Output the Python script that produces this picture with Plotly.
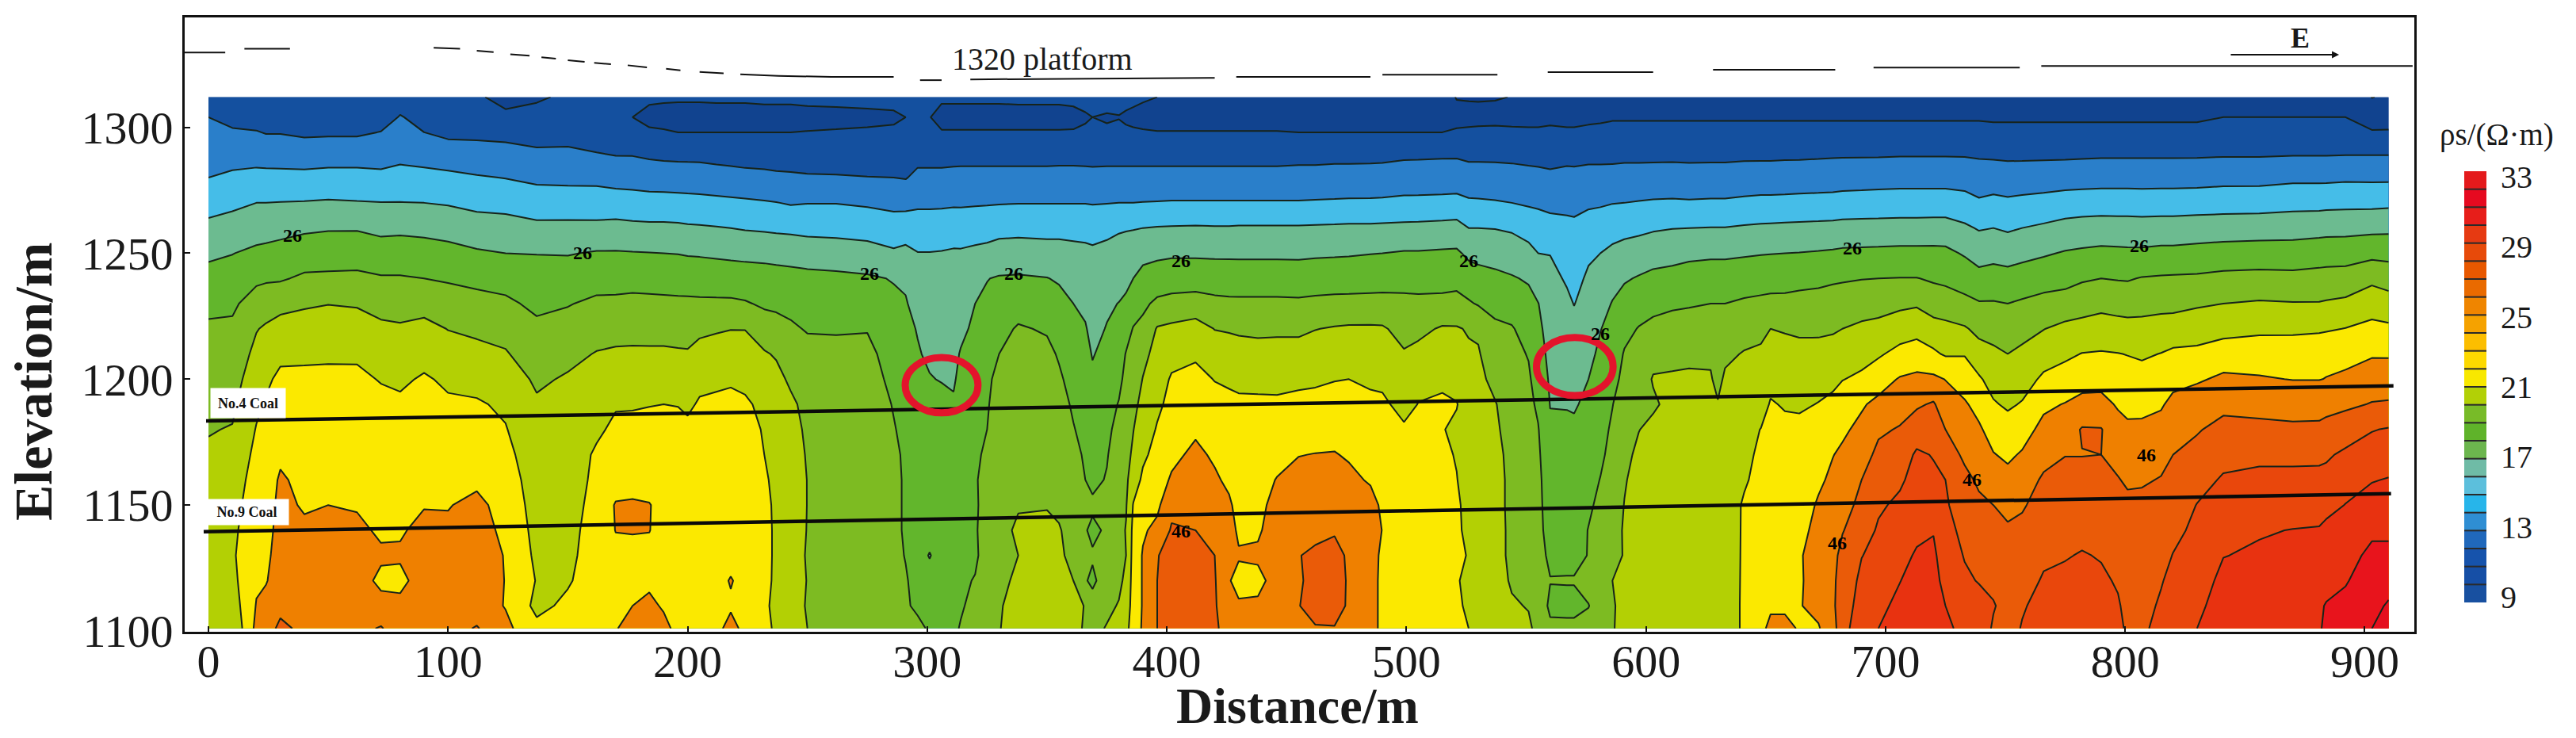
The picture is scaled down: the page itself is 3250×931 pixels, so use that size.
import numpy as np
import plotly.graph_objects as go

elev_m = [1312, 1304, 1298, 1290, 1280, 1270, 1260, 1250, 1240, 1230, 1220, 1210, 1200,
          1190, 1180, 1170, 1160, 1150, 1140, 1130, 1120, 1110, 1101]

columns = [
 (0,  [13,14,15,16.4,18,20.5,23,25.3,27.3,29.2,30.5,31.3,32,33,33.8,34.5,35,35.5,36,36,36,35,35]),
 (10, [12,13,14.4,16.3,18.7,21.2,23.6,25.9,27.7,29.4,30.6,31.5,32.4,33.3,34.2,35,36,36.7,37.2,37.5,37,36,34.5]),
 (20, [11.5,12.5,14.2,16.5,19,22,24.3,26.8,29.3,31.6,33.8,35,36.2,37.3,38.2,39,39.6,40,40.5,41,41.5,42.2,43]),
 (24, [11.5,12.5,13.8,16.3,19,22,24.5,27,29.5,32.2,34.5,36,37.4,38.3,39,39.6,40,40.3,40.8,41.3,41.8,43,44]),
 (30, [11.5,12.5,13.8,16.2,19,22.1,24.7,27.5,29.6,32.8,35.5,37.3,38.7,39.6,40.5,41.3,42.5,43,43.2,43.4,43.6,44.8,47]),
 (40, [11,12,13.4,15.7,19.1,22.2,25.4,28,30.6,33.6,35.4,37.5,38.6,39.3,39.9,40.5,41,41.6,42.7,43.5,44,44.5,45]),
 (50, [11,12,13.5,15.9,19.4,22.4,25.7,28.2,30.7,33.9,36,37.6,38.6,39.2,39.9,40.6,41.3,42,43,43.5,44,44.5,45]),
 (62, [11,12,13.5,15.9,19.4,22.2,25.7,28.3,30.8,33.7,35.5,37.5,38.7,39.5,40,40.5,41,41.6,43,43.8,44,44.3,45]),
 (72, [11.5,12.5,14.1,16.4,18.8,22.1,25,27.9,30.3,32.6,34.8,36.5,37.8,38.9,39.5,40,40.4,40.8,41.3,42.7,41,43.5,46.3]),
 (80, [12.5,14.2,15.1,16.9,19.2,22.1,25.2,27.9,30.3,32.4,34.5,35.9,37.4,38.6,39,39.8,40.6,41,41.6,42.5,41,43,44]),
 (90, [12,13,14,16.4,19.1,22,25,27.6,30,32.6,35.1,36.8,38.4,39.2,39.9,40.6,41.2,41.8,43,43.5,43.8,44,44.5]),
 (100,[11.5,12,13,15.9,18.8,21.7,24.6,27.2,29.6,31.8,33.9,35.6,37.4,38.5,39.3,40.2,41,41.8,42.7,43.2,43.5,44,44.5]),
 (112,[10.5,11.8,13,15.5,18.3,21.1,23.6,26.5,29,31.3,33.3,35,36.8,38.4,39.3,40.2,41.2,43,43.5,44,44,44,46.3]),
 (124,[8.8,10.8,12.8,15.2,17.9,20.8,23.5,26,28.6,30.7,32.8,34.3,36,37.4,38.2,39,39.8,40.5,41.2,41.8,41.9,41.8,43]),
 (137,[9.6,11,12.2,14.6,17.3,19.8,23,25.9,27.6,29.2,30.8,32.1,33.4,34.5,35.2,35.8,36.2,36.5,36.8,37.2,37.8,37,39]),
 (150,[10.5,11.5,12.3,14.7,17.1,19.9,23,25.8,27.8,29.8,31.3,33,34.4,35,35.6,36,36.2,36.5,36.8,37,37.6,38.8,40]),
 (162,[11,11,12.6,14,17,20,22.9,26.3,28.6,30.7,32.5,34.2,35.5,36.5,37.4,38.5,38.8,39.2,39.6,40,40,40.5,41]),
 (170,[10.8,10.8,11.6,13.6,16.6,19.8,23.2,26.3,28.7,30.7,32.8,34.5,36,37.7,38.7,39.5,40.3,42.3,42.1,41,40.8,41,41.7]),
 (177,[10.8,10,11,13.6,16.4,19.7,22.9,26.2,28.9,30.8,32.8,34.6,36.2,37.7,38.9,39.6,40.4,42.5,42.2,41,41,42,44]),
 (184,[10.5,9.2,10.4,13.2,16.1,19.5,22.8,26.1,28.7,30.8,32.7,34.6,36.4,37.9,38.9,39.6,40.2,42.2,42.1,41,41.3,42.8,44.5]),
 (190,[10.5,8.8,10.3,13,16,19.5,22.8,26,28.5,30.8,32.7,34.6,36.5,38,38.9,39.6,40,40.5,40.6,41,41.3,41.6,43]),
 (196,[10.5,8.6,10,12.9,15.9,19.4,22.7,25.9,28.4,30.7,32.7,34.4,36.3,37.9,38.9,39.6,40,40.3,40.5,40.6,40.8,40.8,41]),
 (200,[10.5,8.6,10,12.9,15.8,19.3,22.5,25.7,28.3,30.7,32.8,34.3,36,37.5,38.6,39.5,40,40.3,40.5,40.6,40.8,40.8,41]),
 (205,[10.5,8.6,10,12.9,15.7,19.2,22.4,25.6,28.3,30.6,33.2,35.3,37.3,38.3,39,39.6,40,40.3,40.5,40.6,40.8,40.8,40.8]),
 (212,[10.6,8.6,10,12.7,15.4,19,22.2,25.4,28.1,30.6,33.6,35.7,37.5,38.5,39.2,39.8,40.2,40.5,40.6,40.8,41,41,41.2]),
 (218,[10.6,8.6,10,12.6,15.2,18.8,22,25.2,28,30.6,33.9,35.9,37.7,38.6,39.2,39.8,40.2,40.5,40.6,41,42.2,41.6,43]),
 (224,[10.6,8.6,10,12.4,15,18.6,21.7,25,27.9,30.3,33.9,35.6,37.2,38.5,39.3,39.8,40.2,40.4,40.5,40.6,41,41,41.2]),
 (232,[10.7,8.8,10,12.2,14.9,18.3,21.5,24.8,27.8,29.5,31.7,34.4,36,37.2,37.7,38,38.4,38.7,38.9,38.9,38.9,38.5,39]),
 (237,[10.7,8.8,10,12,14.7,18.1,21.3,24.7,27.5,29.3,31.3,33.6,35.2,36,36.6,37,37.3,37.5,37.5,37.5,37.4,37.3,37.4]),
 (243,[10.7,8.8,10,11.9,14.6,17.7,21.1,24.6,27.2,28.9,30.6,32,33.3,34.8,35.7,36.3,36.6,36.8,36.8,36.8,36.8,36.7,36.3]),
 (250,[10.8,9,10.1,11.8,14.4,17.9,20.8,24.3,27,28.5,29.7,31.3,32.1,32.8,33.2,33.6,33.9,33.9,33.8,33.5,33.8,33.5,34]),
 (262,[10.8,9.2,10.2,11.8,14.3,17.9,20.7,24,26.8,28.3,29.8,30.6,31,31.5,31.8,32,32,32,32,32,32,32,32]),
 (275,[10.8,9.4,10.3,11.7,14.1,17.5,20.4,23.5,26.5,28,29.8,31,31.7,32,31.8,31.6,31.4,31.2,31.2,31.2,31.2,31.2,31.5]),
 (286,[10.8,9.6,10.4,11.7,14,17.2,19.5,22.6,25.8,26.7,27.5,28.3,29,29.8,30.2,30.5,30.6,30.6,30.6,30.6,30.8,31,31.4]),
 (291,[10.9,10,10.6,11.6,13.8,17,20,23,25.4,26.3,26.9,27.5,28.1,28.7,29.2,29.6,29.7,29.7,29.7,29.9,30.2,30.2,30.8]),
 (296,[10.9,10.2,10.7,12.6,14.9,17.3,20,22.1,23.5,24.6,25.8,26.3,26.9,27.5,28,28.3,28.6,28.7,28.8,28.8,29.2,29.7,30.4]),
 (301,[11.2,10.1,10.8,12.6,14.9,17.3,20,22.1,23,23.8,24.6,25.4,26.2,27,27.9,28.4,28.7,28.8,28.8,25.6,28.7,29.3,29.8]),
 (306,[10.5,9,10.2,12.6,14.9,17.4,20,22.2,23,23.7,24.3,25,25.8,27.2,28,28.5,28.7,28.8,28.8,29,29,29.2,29.6]),
 (311,[10.5,9,10.2,12.7,15,17.5,20.3,22.4,23.3,24,24.5,25,25.4,26.6,28,28.5,28.7,28.8,28.8,29,29.1,29.2,29.5]),
 (314,[10.5,9,10.2,12.8,15,17.5,20.2,22.4,23.1,24.1,25.1,26.3,27.4,28,28.5,28.8,29,29.2,29.3,29.5,29.7,29.7,30.2]),
 (320,[10.5,9,10.2,12.8,15,17.6,20.5,22.7,24.2,26,26.8,27.5,28.3,28.8,29.2,29.7,29.8,29.7,29.8,29.7,30.1,30.8,31.5]),
 (325,[10.5,9,10.2,12.8,15,17.7,20.6,23,25.9,26.6,27.4,28.2,29.4,29.7,30,30.3,30.7,30.8,30.8,30.8,31.2,31.7,32.5]),
 (330,[10.5,9,10.2,12.8,15,17.8,20.8,23.6,26.3,27.5,28.8,30,30.9,31.4,31.8,32.2,32.6,32.8,33.2,33.2,33.6,33.8,33.9]),
 (338,[10.6,9,10.2,12.8,15,17.9,20.9,23.8,26.4,28.3,30.4,31.3,32,32.7,33,33.3,33.5,33.8,34.4,34,34.3,34.8,35]),
 (350,[10.6,9,10.2,12.8,15,17.9,20.8,23.5,26.1,28,29.6,31,31.8,32.5,33,33.3,33.5,33.9,34.4,35,35.3,35.5,35.5]),
 (355,[10.6,9,10.2,12.8,15.1,17.9,20.8,23.5,25.6,27.2,28.8,29.6,30.6,31.4,32,32.6,33,33.5,34.2,34.5,34.4,35,35]),
 (361,[10.7,9.2,10.2,12.8,15.1,17.9,20.7,23.2,24.9,26,26.9,27.8,28.6,29.5,30.2,31.3,32,32.8,33,33.2,34,34.6,35]),
 (366,[10.9,9.7,10.4,12.8,15,17.9,20.6,23,24.3,25.2,26.3,27,27.7,28.4,28.9,29.4,30,30.6,30.2,30.5,30.2,33.9,33.6]),
 (369,[11,10,10.6,12.8,14.9,17.8,20.5,22.7,23.5,24.2,24.9,25.8,26.6,27.4,28,28.8,29.3,30.5,29.4,30.3,29.5,31,32.8]),
 (375,[10.8,9.8,10.3,12.8,15,17.9,21,23.1,24.1,25.4,26.2,27,27.8,28.6,29.3,29.8,30.2,30.8,30.4,31,31.3,33,34.3]),
 (380,[10.9,9.9,10.6,12.8,15,18,21.6,23.4,24.4,26.1,27.5,28.3,29.1,30.2,31,31.6,32,32.4,32.7,32.8,33,34.3,35.5]),
 (383,[10.8,9.6,10.4,12.8,15,18,21.7,23.9,25.2,26.6,28.4,30.2,31,31.6,32.3,32.9,33.3,33.7,34.2,34,35,36,37]),
 (386,[10.6,9.4,10.3,12.8,15,18,21.8,24.2,26,28,30.2,31.3,32.2,33,33.9,34.6,36,38.2,39,39.4,39.5,39.5,39.7]),
 (390,[10.3,9.2,10.2,12.8,15,18.1,22,25,27.1,29.2,31,33.1,34.1,35.1,36,37.3,38.7,39.6,41.5,42.3,42.3,42.3,42.5]),
 (396,[10,8.9,10.1,12.8,15,18.2,22.2,25.3,27.7,30.8,34.3,35.1,36.2,37.3,38.3,39.2,40.1,41.2,43,45.8,46,46,46]),
 (402,[9.5,8.9,10.1,12.8,15,18.3,22.3,25.6,27.6,31.6,34.7,36.8,38.4,39,39.8,41,42.5,45,46.4,47.5,47.8,47.8,47]),
 (412,[9.3,8.9,10.1,12.8,15,18.3,22.4,25.5,28,31.8,35.5,37.6,38.8,39.9,41.4,42.9,43.8,45,46,47.5,47.8,47.8,47.3]),
 (420,[9.3,8.9,10.1,12.8,15,18.3,22.3,25.4,28,31,33.9,35.9,37.9,38.9,40,41.4,42.6,43.5,44.7,46,46.3,46.3,46.2]),
 (426,[9.5,8.9,10.1,12.8,15,18.3,22.3,25.4,27.9,30.8,33.7,35.5,37.5,38.8,39.7,40.2,41.2,42.6,43.2,43.5,42.2,44,45.5]),
 (430,[9.5,8.9,10.1,12.8,15,18.3,22.4,25.4,27.8,30.8,33.5,35.3,37.1,38.7,39.4,39.8,40.2,40.7,41.5,42.3,41,42.4,44]),
 (438,[9.5,9,10.1,12.8,15,18.3,22.4,25.4,27.8,30.8,33.3,35.2,37.1,38.6,39.4,39.9,40.3,40.9,41.5,42.6,41,42.6,44.5]),
 (446,[9.5,9,10.1,12.8,15,18.3,22.4,25.4,27.8,30.8,33.4,35.2,37,38.6,39.3,40.6,42.2,43.3,43.8,43.2,43.4,43.9,45]),
 (455,[9.5,9,10,12.9,15.1,18.3,22.4,25.4,27.7,30.7,33.3,35.4,37.3,38.9,40.4,41.9,43.1,44,44.8,45.9,45.6,45.9,45.8]),
 (462,[9.5,9,10,12.9,15.1,18.4,22.5,25.5,28,30.9,33.9,35.8,37.5,39,40.5,42.1,43,44,45.3,46.5,47,47,45.8]),
 (470,[9.5,9,10,13,15.2,18.5,22.6,25.6,28.1,31.1,34.3,36.2,37.9,39,40.7,42.2,43.3,44.4,45.6,47.3,47.5,47.5,45.8]),
 (476,[9.5,9,10,13,15.2,18.6,22.7,25.7,28.1,31.2,34.5,36.4,38,39.1,40.3,41.6,42.9,43.8,44.6,45.4,45.6,45.5,45.2]),
 (485,[9.7,9.1,10,13,15.3,18.6,22.7,25.9,28.2,31.3,34.5,36,37.5,38.7,39.3,40,41.6,43.4,43.7,43.5,43.3,43.3,43.3]),
 (490,[9.8,9.2,10,13,15.4,18.7,22.8,26,28.2,31.4,34.4,36,37.2,38.7,39.2,40,41,41.3,41.9,41.3,41.2,41.2,41.2]),
 (499,[9.8,9.2,10,13.3,15.6,19,22.9,26.3,28.3,31.2,32.8,34.3,35.5,36.8,38.5,39,39.3,39.8,39.8,39.5,39.4,39.4,39.4]),
 (505,[9.8,9.2,10,13.3,15.7,19,23,26.3,28.5,30.9,33.1,35,37,38.1,39,39.3,39.7,40,40,39.7,39.6,39.6,39.5]),
 (515,[9.5,9.2,10,13.4,15.8,19.1,23.2,26.5,28.6,31,34.4,36,37.4,38.5,38.2,38.6,39.2,39.3,39.3,39.3,39.2,39.2,39]),
 (521,[5.6,8.4,10.6,13.4,15.9,19.2,23.4,26.6,28.6,31.4,34.3,35.3,36.5,38.2,37.2,37.8,38.1,38.5,38.5,38.7,38.2,38.4,38.3]),
 (526,[5.4,8.3,10.9,13.1,15.5,18.6,22,25.2,27.9,30.4,33.7,34.5,35.2,35.6,35.8,36,36.6,37,37.3,37.8,37.4,37.6,38]),
 (530,[5.2,8.5,11,13.1,15.5,18.5,22,25,27.2,29.7,33.5,34.3,34.8,35,35.2,35.4,35.6,36,36.2,36.5,36.8,37.5,38]),
 (537,[5.4,8.7,11,13.1,15.4,18.3,21.9,24.3,27,28.9,30.7,31.9,33.1,34.2,34.5,34.8,35,35,35.2,35.2,35.5,35.8,36.2]),
 (544,[6.2,9,10.6,13,15.3,18,21.5,24.1,26.3,28.3,30.3,31,31.6,32.3,32.8,33.2,33.3,33.3,33.3,33.3,33.6,34.4,35]),
 (551,[8,9,10.5,12.9,15,17.5,20.7,23,25.6,27.2,28.5,29.8,30.5,30.9,31.2,31.4,31.6,31.7,31.8,31.9,32.4,33.8,34.6]),
 (555,[8,9,10.5,12.8,14.9,17.2,20.4,22,23.9,26.1,26.9,27.6,28.4,29.4,30.2,30.6,30.8,30.8,30.8,30.9,31.2,32,33]),
 (560,[8.4,9.4,10.5,12.6,14.7,16.8,19.7,21.9,23,23.8,24.4,25,25.5,25.9,26.5,27.2,28,28.5,28.9,29.5,30.1,29.4,30.6]),
 (567,[8.8,9.6,10.2,12.7,15.1,17.2,18.8,20.2,21.6,22.7,23.6,24.5,25.4,25.8,26.7,27.3,27.8,28.2,28.6,29.2,30.2,29.1,30.8]),
 (570,[8.8,9.6,10.2,12.7,15,17.1,18.7,19.9,21,21.9,23,24,25,25.6,26.7,27.3,27.8,28.2,28.6,29.2,30.2,29.1,30.8]),
 (576,[9,9.7,10.3,12.9,15.2,17.5,19.4,21.5,22.5,23.4,24.3,25.1,26,26.9,27.6,28.2,28.9,29.5,30.1,30.1,31,29.9,31]),
 (581,[9,9.8,10.3,12.9,15.2,17.6,19.9,22,23.2,24.6,25.9,26.7,27.5,28.2,28.9,29.4,30.1,30.7,31,31.2,31.4,31.4,31.6]),
 (586,[9,9.9,10.3,12.9,15.3,17.9,20.4,22.9,24.7,26.2,27.1,27.8,28.8,29.9,30.5,31,31.4,32,32.8,33.5,34,33.5,33.6]),
 (591,[9,9.9,10.3,13,15.4,18,20.8,23.5,25.6,27.5,28.9,30.3,31,31.7,32.3,33,33.7,34.1,34.3,34.1,34.8,35.5,35.8]),
 (597,[9,9.9,10.3,13,15.4,18.2,21.2,23.8,26.3,28.2,30.2,31,31.8,32.7,33.9,34.8,35.3,35.5,35.8,36,36.5,36.7,36.8]),
 (603,[9,9.9,10.3,13,15.5,18.4,21.6,24.3,27,28.9,31,32.7,34.3,33.4,35,35.5,35.7,35.9,36,36.2,36.5,36.6,36.8]),
 (611,[9.2,9.9,10.3,13,15.6,18.5,21.9,24.7,27.3,29.5,31.3,32.9,34.5,35.2,35.7,36,36.2,36.4,36.6,36.7,36.9,37,37]),
 (618,[9.3,9.9,10.3,13,15.4,18.4,22,25.2,27.6,29.7,31.5,33.2,34.6,35.2,35.7,36,36.2,36.4,36.5,36.6,36.7,36.8,36.9]),
 (627,[9.3,9.9,10.3,13,15.5,18.5,22.1,25.4,27.8,30,31.8,33.3,34.4,35,35.8,36.1,36.3,36.5,36.6,36.7,36.8,36.9,37]),
 (630,[9.3,9.9,10.3,13,15.5,18.5,22.1,25.4,27.8,30,31.4,32.1,32.7,34.3,35.6,36,36.2,36.4,36.5,36.6,36.7,36.8,36.9]),
 (633,[9.3,9.9,10.3,13,15.5,18.5,22.1,25.4,27.8,30,31.8,33.1,34.7,35.7,36,36.3,36.5,36.6,36.7,36.8,36.9,37,37]),
 (641,[9.4,9.9,10.3,13.1,15.7,18.8,22.4,25.6,28.2,30.5,32.2,34.3,35.2,35.9,36.6,37.2,37.7,38.3,38.3,38.3,38.3,38.3,38.3]),
 (648,[9.4,9.9,10.3,13.1,15.8,19,22.6,25.8,28.4,30.8,33.1,34.6,35.7,36.5,38.1,38.6,38.8,39,39,39,39,39.5,41]),
 (652,[9.4,9.9,10.3,13.1,15.8,19,22.7,25.9,28.5,31,34,35.6,37,38.3,38.7,39,39.2,39.4,39.4,39.4,39.5,41.4,43]),
 (658,[9.4,9.9,10.3,13.2,15.8,19.1,22.8,26,28.6,31,33.7,35.3,37,37.7,38.8,39.2,39.5,39.7,39.8,39.9,40,41.4,43]),
 (664,[9.4,9.9,10.3,13.2,15.9,19.2,22.9,26.1,28.8,31.3,33.4,35.1,36.8,37.6,38.7,39.4,39.8,40.3,41,41.7,41.6,41.8,41.7]),
 (672,[9.4,9.9,10.3,13.3,16,19.3,23,26.3,29,31.6,33.3,35.3,37,38.1,39.2,40,41.4,42.4,43,43.3,43.4,43,41.7]),
 (678,[9.5,9.9,10.3,13.4,16.1,19.4,23.1,26.5,29.4,31.9,33.6,35.4,37.4,38.6,40.4,41.9,42.7,43.4,44,45,45.3,45.3,44.3]),
 (682,[9.5,9.9,10.3,13.4,16.3,19.5,23.3,26.7,29.6,32,34,35.5,37.9,39.6,41.4,42.6,43.7,44.7,45.8,47,47.6,48.2,48.8]),
 (690,[9.5,9.9,10.3,13.4,16.4,19.6,23.4,26.8,29.9,32.1,34.8,36.9,38.6,41.6,42.9,44.4,46,46.9,48,49.9,50.8,51.4,52]),
 (697,[9.6,9.9,10.3,13.4,16.5,19.7,23.4,26.9,30,32.3,35.3,37.5,40.4,42.9,45.4,46.9,48,49.4,50.5,51,51.9,53,54]),
 (706,[9.6,9.9,10.3,13.5,16.6,19.8,23.5,27,30.1,33.2,36.1,39.2,42.3,44.5,46.3,47.8,49.4,50.8,51.9,52.9,53.9,55,56]),
 (713,[9.6,9.9,10.3,13.5,16.6,19.8,23.5,27,30.1,33.5,36.8,39.7,42.9,45.5,48,50.6,51.4,52.2,53.2,54.4,55.5,56.5,57]),
 (720,[9.6,9.9,10.3,13.5,16.6,19.8,23.6,27,29.6,31.8,35.8,38.6,42.8,46.4,48,49.8,50.7,51.5,53.8,54.7,55.3,56,56.8]),
 (725,[9.6,9.9,10.3,13.5,16.6,19.8,23.6,26.9,29.3,31.6,35.2,37.6,41.9,43.9,46,48,50,50.4,51,52,52.8,54,55.5]),
 (733,[9.6,9.9,10.3,13.5,16.3,19.5,22.6,25.6,28.5,30.9,34.4,37.8,40,42.5,43.9,45.3,47,48.3,49.2,49.8,50.6,51.4,52]),
 (739,[9.6,9.9,10.3,13.3,16,18.5,21.7,24.5,27.2,30.3,33,35.5,38.5,40.6,42.6,44,45.4,46.7,47.6,48.8,49.8,51.3,52.5]),
 (745,[9.6,9.9,10.2,13.2,16,19,22,24.8,27.6,30.3,32.5,34.8,36.5,38.4,40.3,42.2,44.2,46,47,47.9,49,50.3,49.5]),
 (751,[9.6,9.9,10.2,13.1,15.7,18.7,21.5,24.5,27.3,30,32,34,35.7,37.4,39.7,41.3,43.2,45,46.5,47.4,48,48.6,48.8]),
 (757,[9.6,9.9,10.2,13.1,15.8,19,22,25,27.7,30.5,32.7,34.8,36.3,38.3,40.3,42.4,44.3,45.6,46.9,47.9,48.8,49.7,50.2]),
 (766,[9.7,9.9,10.2,13.1,16,19.3,22.6,25.6,28.4,31.2,33.9,36.3,38.7,41.2,43.2,44.9,46.5,47.5,48.5,49.5,50.3,51,51.5]),
 (775,[9.7,9.9,10.2,13.1,16.2,19.8,23.3,26.3,28.8,31.6,35,37.4,39.4,42.2,44,45.9,47.3,48.1,49,49.8,50.7,51.4,52]),
 (782,[9.7,9.9,10.2,13.2,16.3,20,23.6,26.6,29.6,32.1,35.5,38.1,40.6,43.1,46.3,45.9,47.3,48.4,49.2,50.2,51,51.5,52]),
 (790,[9.7,9.9,10.2,13.3,16.4,20.1,23.8,26.9,30,32.9,35.8,38.3,40.7,43.2,46.2,46,47,48,49,49.8,50.5,51,51.4]),
 (797,[9.7,9.9,10.2,13.3,16.4,20.1,23.7,26.8,29.8,32.4,35.6,38.1,39.8,41.6,43.4,44.9,46.2,47.2,48,48.9,49.7,50.3,50.8]),
 (801,[9.7,9.9,10.2,13.3,16.4,20.1,23.7,26.7,29.7,32.3,35.4,37.9,39.4,41,42.7,44.1,45.5,46.8,47.5,48.2,48.8,49.2,49.5]),
 (807,[9.7,9.9,10.2,13.3,16.4,20,23.6,26.7,30.2,32.7,35.2,37.5,39.4,41.1,42.7,44.2,45.6,46.9,47.6,48,48.6,49,49.4]),
 (815,[9.7,9.9,10.2,13.3,16.4,20.1,23.7,27,30.4,32.9,35.6,38.1,40,41.6,43.3,44.9,46.2,47.2,48.1,49,49.8,50.4,51]),
 (820,[9.7,9.9,10.2,13.3,16.4,20.1,23.7,27,30.5,32.9,35.8,38.7,40.9,43,44.7,46,47,48,49.2,50.1,50.8,51.4,52]),
 (830,[9.8,9.9,10.2,13.3,16.5,20.2,23.9,27.3,30.6,33.5,36.4,38.8,41.5,44.2,45.7,47.1,48.7,50.1,50.7,51.4,52.1,53,54]),
 (841,[9.8,10,10.3,13.4,16.8,20.3,24.1,27.6,31,34,36.7,40,42.7,45.1,47.1,48.9,50.4,51.2,52.7,53.9,55,56,57]),
 (856,[9.8,10,10.3,13.4,16.8,20.4,24.2,27.8,31.2,34.4,37.2,40.3,42.3,44.7,47,49.2,50.9,52.3,53.7,54.5,55.2,56,56.8]),
 (870,[9.8,10,10.4,13.5,17.2,20.8,24.3,27.9,31,34.2,37.2,40.4,41.9,44.5,46.7,49.2,50.9,52.2,54.1,55,55.8,56.5,57.3]),
 (881,[9.8,10,10.4,13.5,17.2,20.8,24.6,28.2,31.3,34.2,37.4,40.8,41.9,44.5,46.8,49.3,50.9,52.4,54.3,55.4,56.6,57.6,57.8]),
 (884,[9.8,10,10.4,13.5,17.2,20.9,24.7,28.3,31.4,34.4,37.6,41,42.1,44.6,47.4,49.5,51.1,52.9,54.9,55.7,57,58.2,58.4]),
 (892,[9.8,10,10.4,13.6,17.4,21,24.8,28.3,31.6,34.8,38.1,40.5,42.9,45.3,48.1,50.7,52.4,54.1,55.4,56.6,57.7,59,60.2]),
 (903,[5.9,8.4,10.3,13.6,17.3,21,25,28.9,33.1,36.3,39,41.6,44.1,46.2,49.8,51.9,53.8,55.6,57.3,58.9,60,61,62]),
 (910,[6.5,8.6,10.3,13.6,17.3,21.2,25.1,28.8,32.3,35.7,38.7,41.6,44,46.4,50.3,52.2,54.2,55.8,57.3,58.9,60.7,62.4,63.6]),
]

dist_m = [c[0] for c in columns]
rho_columns = [c[1] for c in columns]
bad = [c[0] for c in columns if len(c[1]) != len(elev_m)]
if bad:
    raise SystemExit(f"wrong length at {bad}")

contour_start, contour_end, contour_step = 6, 62, 4
band_colors = ["#0e3c8d", "#11438f", "#14509f", "#2a7fca", "#45bde8", "#6cbb90", "#62b62c", "#7dbb22",
               "#b3d004", "#fbe900", "#ef8000", "#ea5b08", "#e9470c", "#e83210", "#e8141c", "#e5101f"]

bar_values = list(range(9, 33))
bar_colors = ["#1850a0", "#164fa6", "#1653ac", "#2068bb", "#2f8ed3", "#27b5ea", "#5cbfdc", "#6fbba6",
              "#6cb64e", "#5fb32a", "#78bb28", "#b2d006", "#f8e800", "#fdd900", "#fcbe00", "#f5a200",
              "#ef8500", "#e96a00", "#e85800", "#e74a0a", "#e63a12", "#e71e1a", "#e60a20", "#e41a1c"]
bar_tick_pos = [9.3, 13.2, 17.1, 21, 24.9, 28.8, 32.7]
bar_tick_text = ["9", "13", "17", "21", "25", "29", "33"]

coal4_x, coal4_e = [-1, 912], [1183.4, 1197.3]
coal9_x, coal9_e = [-2, 911], [1139.4, 1154.5]

topo_x = [-10, 7, None, 15, 34, None, 94, 105, None, 112, 119, None, 126, 134, None, 139, 145, None, 150, 157, None,
          161, 168, None, 175, 183, None, 191, 197, None, 205, 215, None, 222, 238, 260, 286, None, 297, 306, None,
          318, 420, None, 429, 485, None, 490, 538, None, 559, 603, None, 628, 679, None, 695, 756, None, 765, 920]
topo_e = [1329.7, 1329.7, None, 1331.2, 1331.2, None, 1331.6, 1331.2, None, 1330.4, 1329.8, None, 1329, 1328.4, None,
          1327.8, 1327.2, None, 1326.6, 1326, None, 1325.6, 1325, None, 1324.6, 1323.8, None, 1323.2, 1322.6, None,
          1322, 1321.4, None, 1321, 1320.4, 1320, 1320, None, 1318.7, 1318.7, None, 1319, 1319.6, None, 1320, 1320,
          None, 1320.9, 1320.9, None, 1321.9, 1321.9, None, 1322.8, 1322.8, None, 1323.7, 1323.7, None, 1324.3, 1324.3]

label_26_x = [35, 156, 276, 336, 406, 526, 581, 686, 806]
label_26_e = [1257, 1250, 1242, 1242, 1247, 1247, 1218, 1252, 1253]
label_46_x = [406, 680, 736, 809]
label_46_e = [1139.6, 1135, 1160, 1170]

circle_x = [306, 570.3]
circle_e = [1197.6, 1205]
circle_rx = [15.2, 16]
circle_re = [11, 11.5]

W, H = 3250, 931
FONT = "Liberation Serif"
INK = "#1a1a1a"


def step_scale(colors):
    n = len(colors)
    out = []
    for i, c in enumerate(colors):
        out += [[i / n, c], [(i + 1) / n, c]]
    return out


zlo = contour_start - contour_step / 2
zhi = contour_end + contour_step / 2
scale = []
for k, c in enumerate(band_colors):
    lo = max(0, (contour_start + (k - 1) * contour_step - zlo) / (zhi - zlo))
    hi = min(1, (contour_start + k * contour_step - zlo) / (zhi - zlo))
    scale += [[lo, c], [hi, c]]

fig = go.Figure()
fig.add_trace(go.Contour(
    x=dist_m, y=elev_m, z=np.array(rho_columns).T.tolist(),
    autocontour=False, zmin=zlo, zmax=zhi, colorscale=scale, showscale=False,
    contours=dict(start=contour_start, end=contour_end, size=contour_step, coloring="fill", showlabels=False),
    line=dict(color="#17231a", width=2, smoothing=0), hoverinfo="skip"))

for xs, es in [(coal4_x, coal4_e), (coal9_x, coal9_e)]:
    fig.add_trace(go.Scatter(x=xs, y=es, mode="lines", line=dict(color="#0a0a0a", width=4.5),
                             showlegend=False, hoverinfo="skip"))
fig.add_trace(go.Scatter(x=topo_x, y=topo_e, mode="lines", line=dict(color="#111111", width=2),
                         showlegend=False, hoverinfo="skip", connectgaps=False))

fig.add_trace(go.Heatmap(x=[0], y=[v + 0.5 for v in bar_values], z=[[v + 0.5] for v in bar_values],
                         xaxis="x2", yaxis="y2", zmin=9, zmax=33, colorscale=step_scale(bar_colors),
                         showscale=False, hoverinfo="skip"))

axis_font = dict(family=FONT, size=58, color=INK)
fig.update_layout(
    width=W, height=H, margin=dict(l=0, r=0, t=0, b=0), paper_bgcolor="white", plot_bgcolor="white",
    showlegend=False, font=dict(family=FONT, color=INK),
    xaxis=dict(domain=[233 / W, 3046 / W], range=[-9.93, 920.7], tickvals=list(range(0, 901, 100)),
               ticks="inside", ticklen=7, tickwidth=2, tickcolor="#111", showgrid=False, zeroline=False,
               showline=True, linecolor="#111", linewidth=3, mirror=True, tickfont=axis_font, automargin=False,
               ticklabelstandoff=-16),
    yaxis=dict(domain=[1 - 797 / H, 1 - 22 / H], range=[1099.7, 1343.6], tickvals=[1100, 1150, 1200, 1250, 1300],
               ticks="inside", ticklen=7, tickwidth=2, tickcolor="#111", showgrid=False, zeroline=False,
               showline=True, linecolor="#111", linewidth=3, mirror=True, tickfont=axis_font, automargin=False),
    xaxis2=dict(domain=[3109 / W, 3137 / W], range=[-0.5, 0.5], visible=False, anchor="y2", automargin=False),
    yaxis2=dict(domain=[1 - 760 / H, 1 - 216 / H], range=[9, 33], anchor="x2", side="right", automargin=False,
                tickvals=bar_tick_pos, ticktext=bar_tick_text, ticks="outside", ticklen=9,
                tickcolor="rgba(0,0,0,0)", showgrid=False, zeroline=False, showline=False,
                tickfont=dict(family=FONT, size=40, color=INK)),
)

shapes = []
for cx, ce, rx, re_ in zip(circle_x, circle_e, circle_rx, circle_re):
    shapes.append(dict(type="circle", xref="x", yref="y", x0=cx - rx, x1=cx + rx, y0=ce - re_, y1=ce + re_,
                       line=dict(color="#e3142c", width=9), layer="above"))
for v in bar_values[1:]:
    shapes.append(dict(type="line", xref="x2", yref="y2", x0=-0.5, x1=0.5, y0=v, y1=v,
                       line=dict(color="#2a2a2a", width=2), layer="above"))
fig.update_layout(shapes=shapes)

notes = []
for xs, es, txt in [(label_26_x, label_26_e, "26"), (label_46_x, label_46_e, "46")]:
    for x, e in zip(xs, es):
        notes.append(dict(x=x, y=e, text=f"<b>{txt}</b>", showarrow=False,
                          font=dict(family=FONT, size=24, color="#000")))
notes += [
    dict(x=16.5, y=1190.6, text="<b>No.4 Coal</b>", showarrow=False, bgcolor="white", width=92, height=35,
         font=dict(family=FONT, size=18, color="#111")),
    dict(x=16, y=1147.2, text="<b>No.9 Coal</b>", showarrow=False, bgcolor="white", width=103, height=30,
         font=dict(family=FONT, size=18, color="#111")),
    dict(x=348, y=1327.2, text="1320 platform", showarrow=False, font=dict(family=FONT, size=40, color=INK)),
    dict(x=873, y=1335.5, text="<b>E</b>", showarrow=False, font=dict(family=FONT, size=36, color=INK)),
    dict(x=889.3, y=1328.8, ax=843.6, ay=1328.8, xref="x", yref="y", axref="x", ayref="y", text="",
         showarrow=True, arrowhead=2, arrowsize=0.9, arrowwidth=2, arrowcolor="#111"),
    dict(x=3150 / W, y=1 - 170 / H, xref="paper", yref="paper", xanchor="center", yanchor="middle",
         text="ρs/(Ω·m)", showarrow=False, font=dict(family=FONT, size=39, color=INK)),
    dict(x=1637 / W, y=1 - 890 / H, xref="paper", yref="paper", xanchor="center", yanchor="middle",
         text="<b>Distance/m</b>", showarrow=False, font=dict(family=FONT, size=64, color=INK)),
    dict(x=42 / W, y=1 - 482 / H, xref="paper", yref="paper", xanchor="center", yanchor="middle", textangle=-90,
         text="<b>Elevation/m</b>", showarrow=False, font=dict(family=FONT, size=68, color=INK)),
]
fig.update_layout(annotations=notes)

fig.write_html("out.html", config={"displayModeBar": False}, post_script="document.body.style.margin='0';")
